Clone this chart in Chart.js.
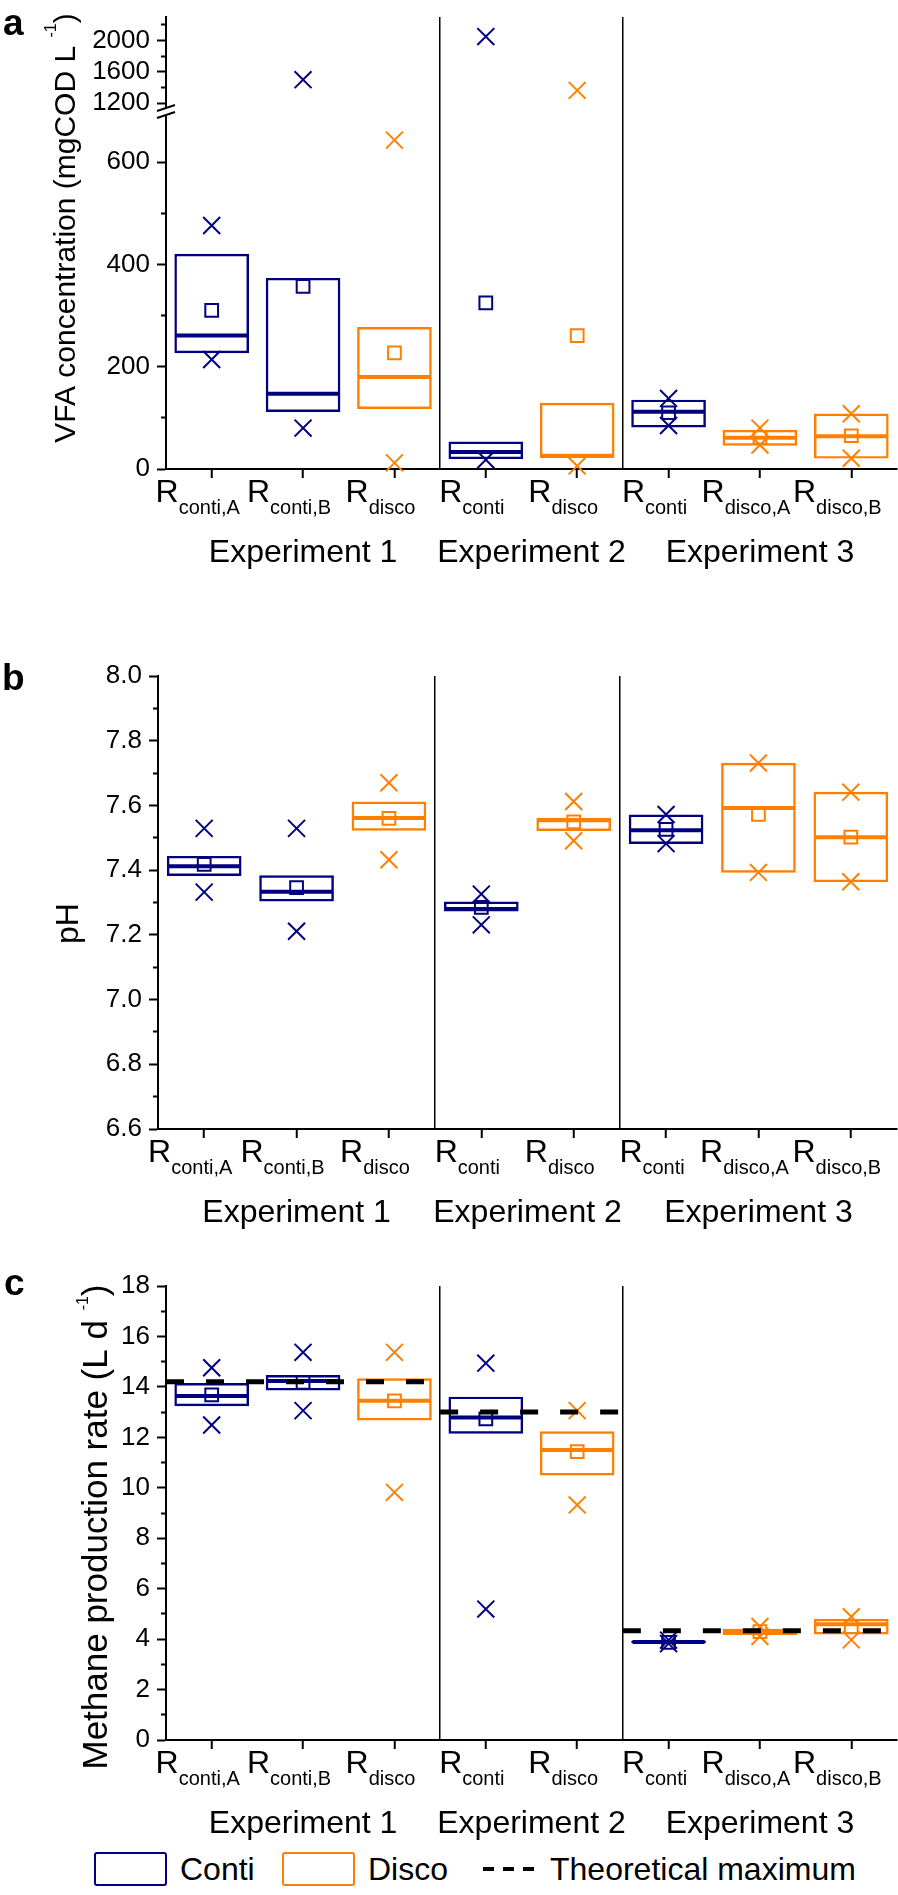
<!DOCTYPE html>
<html>
<head>
<meta charset="utf-8">
<script src="https://cdn.jsdelivr.net/npm/chart.js@4.4.1/dist/chart.umd.min.js"></script>
<style>
    body { margin: 0; background: #fff; }
    #page {
        position: relative;
        width: 898px;
        height: 1895px;
        font-family: "Liberation Sans", Arial, sans-serif;
    }
    #page canvas { position: absolute; left: 0; }
    .legend-box {
        position: absolute;
        top: 1852px;
        width: 73px;
        height: 34px;
        box-sizing: border-box;
        border: 2.5px solid;
        border-radius: 3px;
    }
    .legend-text {
        position: absolute;
        top: 1852px;
        line-height: 34px;
        font-size: 32px;
        color: #000;
        white-space: nowrap;
    }
    .legend-dash {
        position: absolute;
        left: 483px;
        top: 1867px;
        width: 52px;
        height: 4px;
        background: repeating-linear-gradient(to right, #000 0 11px, transparent 11px 20px);
    }
</style>
</head>
<body>
<div id="page">
    <canvas id="vfaChart" width="898" height="590" style="top:0"></canvas>
    <canvas id="phChart" width="898" height="640" style="top:600px"></canvas>
    <canvas id="ch4Chart" width="898" height="600" style="top:1240px"></canvas>

    <div class="legend-box" style="left:94px;border-color:#000080"></div>
    <div class="legend-text" style="left:180px">Conti</div>
    <div class="legend-box" style="left:282px;border-color:#ff8000"></div>
    <div class="legend-text" style="left:368px">Disco</div>
    <div class="legend-dash"></div>
    <div class="legend-text" style="left:550px">Theoretical maximum</div>
</div>

<script>
// Reactors along the x axis, grouped by experiment
const reactorNames = ['conti,A', 'conti,B', 'disco', 'conti', 'disco', 'conti', 'disco,A', 'disco,B'];
const reactorMode = ['conti', 'conti', 'disco', 'conti', 'disco', 'conti', 'disco', 'disco'];
const experimentNames = ['Experiment 1', 'Experiment 2', 'Experiment 3'];
const experimentSizes = [3, 2, 3];

// a: VFA concentration (mgCOD/L)
const vfaQ1 = [227, 112, 118, 20, 22, 82, 46, 21];
const vfaQ3 = [420, 373, 277, 53, 129, 135, 76, 108];
const vfaMedian = [261, 147, 180, 33, 26, 112, 61, 64];
const vfaMean = [310, 357, 227, 325, 261, 110, 62, 65];
const vfaMin = [214, 80, 12, 18, 6, 85, 47, 21];
const vfaMax = [476, 1500, 643, 2050, 1363, 138, 80, 108];
const vfaTicksLow = [0, 100, 200, 300, 400, 500, 600];
const vfaLabelsLow = [0, 200, 400, 600];
const vfaTicksHigh = [1200, 1400, 1600, 1800, 2000, 2200];
const vfaLabelsHigh = [1200, 1600, 2000];

// b: pH
const phQ1 = [7.383, 7.304, 7.523, 7.273, 7.522, 7.482, 7.393, 7.364];
const phQ3 = [7.443, 7.383, 7.611, 7.302, 7.561, 7.571, 7.731, 7.641];
const phMedian = [7.412, 7.333, 7.561, 7.28, 7.554, 7.523, 7.592, 7.502];
const phMean = [7.418, 7.346, 7.56, 7.285, 7.549, 7.526, 7.572, 7.502];
const phMin = [7.332, 7.211, 7.432, 7.231, 7.491, 7.482, 7.393, 7.364];
const phMax = [7.529, 7.529, 7.67, 7.326, 7.612, 7.572, 7.731, 7.641];
const phTicks = [6.6, 6.7, 6.8, 6.9, 7.0, 7.1, 7.2, 7.3, 7.4, 7.5, 7.6, 7.7, 7.8, 7.9, 8.0];
const phLabels = [6.6, 6.8, 7.0, 7.2, 7.4, 7.6, 7.8, 8.0];

// c: methane production rate (L/d)
const ch4Q1 = [13.25, 13.87, 12.68, 12.16, 10.5, 3.86, 4.18, 4.2];
const ch4Q3 = [14.14, 14.46, 14.33, 13.6, 12.23, 3.93, 4.4, 4.79];
const ch4Median = [13.64, 14.23, 13.45, 12.79, 11.5, 3.89, 4.3, 4.59];
const ch4Mean = [13.68, 14.18, 13.45, 12.73, 11.43, 3.87, 4.3, 4.49];
const ch4Min = [12.49, 13.06, 9.82, 5.19, 9.32, 3.82, 4.1, 3.97];
const ch4Max = [14.76, 15.37, 15.37, 14.94, 13.06, 3.96, 4.5, 4.89];
const ch4Theoretical = [14.2, 13.0, 4.33];
const ch4Ticks = [0, 1, 2, 3, 4, 5, 6, 7, 8, 9, 10, 11, 12, 13, 14, 15, 16, 17, 18];
const ch4Labels = [0, 2, 4, 6, 8, 10, 12, 14, 16, 18];

const COLORS = { conti: '#000080', disco: '#ff8000' };
const FONT = '"Liberation Sans", Arial, sans-serif';

Chart.defaults.font.family = FONT;

// x positions: reactor centres and experiment dividers
const xPos = reactorNames.map((_, i) => i + 0.5);
const dividers = [];
experimentSizes.slice(0, -1).reduce((acc, n) => { dividers.push(acc + n); return acc + n; }, 0);
const xMax = experimentSizes.reduce((a, b) => a + b, 0);

// Text that Chart.js can't lay out: subscripts, superscripts, panel letter, axis break
const panelText = {
    id: 'panelText',
    afterDraw(chart, args, opts) {
        const ctx = chart.ctx;
        const area = chart.chartArea;
        const xScale = chart.scales.x;
        ctx.save();
        ctx.fillStyle = '#000';
        ctx.textBaseline = 'alphabetic';

        // reactor labels, R with subscript
        reactorNames.forEach((name, i) => {
            const cx = xScale.getPixelForValue(xPos[i]);
            ctx.font = `32px ${FONT}`;
            const wR = ctx.measureText('R').width;
            ctx.font = `20px ${FONT}`;
            const wSub = ctx.measureText(name).width;
            let left = cx - (wR + wSub) / 2 - 14;
            left = Math.min(left, chart.width - 2 - wR - wSub);
            ctx.textAlign = 'left';
            ctx.font = `32px ${FONT}`;
            ctx.fillText('R', left, area.bottom + 33);
            ctx.font = `20px ${FONT}`;
            ctx.fillText(name, left + wR, area.bottom + 45);
        });

        // experiment names under each group
        ctx.font = `32px ${FONT}`;
        ctx.textAlign = 'center';
        let start = 0;
        experimentNames.forEach((name, k) => {
            const cx = xScale.getPixelForValue(start + experimentSizes[k] / 2);
            ctx.fillText(name, cx, area.bottom + 93);
            start += experimentSizes[k];
        });

        // rotated y title with optional superscript
        const t = opts.title;
        const mainFont = `${opts.titleSize}px ${FONT}`;
        const supFont = `16px ${FONT}`;
        ctx.font = mainFont;
        const w1 = ctx.measureText(t[0]).width;
        const w3 = ctx.measureText(t[2]).width;
        ctx.font = supFont;
        const w2 = ctx.measureText(t[1]).width;
        ctx.save();
        ctx.translate(opts.titleX, (area.top + area.bottom) / 2 + opts.titleShift);
        ctx.rotate(-Math.PI / 2);
        ctx.textAlign = 'left';
        let x = -(w1 + w2 + w3) / 2;
        ctx.font = mainFont;
        ctx.fillText(t[0], x, 0);
        x += w1;
        ctx.font = supFont;
        ctx.fillText(t[1], x, -19);
        x += w2;
        ctx.font = mainFont;
        ctx.fillText(t[2], x, 0);
        ctx.restore();

        // panel letter
        ctx.font = `bold 37px ${FONT}`;
        ctx.textAlign = 'left';
        ctx.fillText(opts.letter, opts.letterX, opts.letterY);

        // break mark on a split y axis
        if (opts.breakAt) {
            const yb = chart.scales.y.top;
            const ax = area.left;
            ctx.fillStyle = '#fff';
            ctx.fillRect(ax - 3, yb - 3, 6, 7);
            ctx.strokeStyle = '#000';
            ctx.lineWidth = 2;
            ctx.beginPath();
            ctx.moveTo(ax - 9, yb);
            ctx.lineTo(ax + 9, yb - 6);
            ctx.moveTo(ax - 9, yb + 7);
            ctx.lineTo(ax + 9, yb + 1);
            ctx.stroke();
        }
        ctx.restore();
    }
};

function yAxis(ticks, labels, fmt, leftWidth, extra) {
    return Object.assign({
        type: 'linear',
        position: 'left',
        afterBuildTicks: s => { s.ticks = ticks.map(v => ({ value: v })); },
        afterFit: s => {
            s.width = leftWidth;
            s.paddingTop = 0; s.paddingBottom = 0; s.paddingLeft = 0; s.paddingRight = 0;
        },
        grid: {
            drawOnChartArea: false,
            tickLength: 9,
            tickWidth: 2,
            tickColor: '#000',
            tickBorderDash: c => (c.tick && labels.includes(c.tick.value)) ? [] : [0, 4, 100]
        },
        border: { color: '#000', width: 2 },
        ticks: {
            autoSkip: false,
            padding: 7,
            color: '#000',
            font: { size: 26 },
            callback: v => labels.includes(v) ? fmt(v) : ''
        }
    }, extra);
}

function xAxis(height) {
    return {
        type: 'linear',
        min: 0,
        max: xMax,
        offset: false,
        afterBuildTicks: s => {
            s.ticks = xPos.concat(dividers).sort((a, b) => a - b).map(v => ({ value: v }));
        },
        afterFit: s => {
            s.height = height;
            s.paddingTop = 0; s.paddingBottom = 0; s.paddingLeft = 0; s.paddingRight = 0;
        },
        grid: {
            offset: false,
            drawOnChartArea: true,
            lineWidth: 1.5,
            color: c => (c.tick && dividers.includes(c.tick.value)) ? '#000' : 'rgba(0,0,0,0)',
            tickLength: 9,
            tickWidth: 2,
            tickColor: c => (c.tick && dividers.includes(c.tick.value)) ? 'rgba(0,0,0,0)' : '#000'
        },
        border: { color: '#000', width: 2 },
        ticks: { display: false }
    };
}

// point datasets, split over two y scales when the axis is broken
function pointSets(values, style, radius, width, order, breakAt) {
    const parts = breakAt ? [['y', v => v <= breakAt], ['y2', v => v > breakAt]] : [['y', () => true]];
    return parts.map(([axisId, keep]) => ({
        type: 'scatter',
        yAxisID: axisId,
        data: values.map((v, i) => ({ x: xPos[i], y: v, mode: reactorMode[i] })).filter(p => keep(p.y)),
        pointStyle: style,
        pointRadius: radius,
        pointHoverRadius: radius,
        pointBorderWidth: width,
        pointBackgroundColor: 'rgba(0,0,0,0)',
        pointBorderColor: c => COLORS[c.raw ? c.raw.mode : 'conti'],
        clip: false,
        order: order
    })).filter(d => d.data.length);
}

function buildChart(id, spec) {
    const datasets = [];

    if (spec.theoretical) {
        let start = 0;
        spec.theoretical.forEach((v, k) => {
            datasets.push({
                type: 'line',
                yAxisID: 'y',
                data: [{ x: start, y: v }, { x: start + experimentSizes[k], y: v }],
                borderColor: '#000',
                borderWidth: 5,
                borderDash: [18, 22],
                pointRadius: 0,
                fill: false,
                order: 0
            });
            start += experimentSizes[k];
        });
    }

    datasets.push(...pointSets(spec.max, 'crossRot', 12, 2, 1, spec.breakAt));
    datasets.push(...pointSets(spec.min, 'crossRot', 12, 2, 1, spec.breakAt));
    datasets.push(...pointSets(spec.mean, 'rect', 9, 2, 2, spec.breakAt));
    datasets.push(...pointSets(spec.median, 'line', 36, 4, 3, spec.breakAt));

    datasets.push({
        type: 'bar',
        yAxisID: 'y',
        data: spec.q1.map((lo, i) => ({ x: xPos[i], y: [lo, spec.q3[i]] })),
        backgroundColor: 'rgba(0,0,0,0)',
        borderColor: reactorMode.map(m => COLORS[m]),
        borderWidth: 1.8,
        borderSkipped: false,
        barThickness: 74,
        order: 4
    });

    return new Chart(document.getElementById(id), {
        type: 'bar',
        data: { datasets },
        options: {
            responsive: false,
            animation: false,
            devicePixelRatio: 1,
            events: [],
            layout: { autoPadding: false, padding: { top: spec.top, left: 0, right: 1, bottom: 0 } },
            scales: Object.assign({ x: xAxis(spec.xHeight) }, spec.yScales),
            plugins: {
                legend: { display: false },
                tooltip: { enabled: false },
                panelText: spec.text
            }
        },
        plugins: [panelText]
    });
}

// a: VFA, with a broken y axis
buildChart('vfaChart', {
    q1: vfaQ1, q3: vfaQ3, median: vfaMedian, mean: vfaMean, min: vfaMin, max: vfaMax,
    breakAt: 700,
    top: 17,
    xHeight: 121,
    yScales: {
        y: yAxis(vfaTicksLow, vfaLabelsLow, v => String(v), 166, { min: 0, max: 700, stack: 'vfa', stackWeight: 358 }),
        y2: yAxis(vfaTicksHigh, vfaLabelsHigh, v => String(v), 166, { min: 1100, max: 2300, stack: 'vfa', stackWeight: 94 })
    },
    text: {
        title: ['VFA concentration (mgCOD L ', '-1', ')'],
        titleSize: 30, titleX: 75, titleShift: -15,
        letter: 'a', letterX: 3, letterY: 35,
        breakAt: 700
    }
});

// b: pH
buildChart('phChart', {
    q1: phQ1, q3: phQ3, median: phMedian, mean: phMean, min: phMin, max: phMax,
    top: 76,
    xHeight: 111,
    yScales: {
        y: yAxis(phTicks, phLabels, v => v.toFixed(1), 158, { min: 6.6, max: 8.0 })
    },
    text: {
        title: ['pH', '', ''],
        titleSize: 32, titleX: 78, titleShift: 21,
        letter: 'b', letterX: 2, letterY: 90
    }
});

// c: methane production rate
buildChart('ch4Chart', {
    q1: ch4Q1, q3: ch4Q3, median: ch4Median, mean: ch4Mean, min: ch4Min, max: ch4Max,
    theoretical: ch4Theoretical,
    top: 46,
    xHeight: 100,
    yScales: {
        y: yAxis(ch4Ticks, ch4Labels, v => String(v), 166, { min: 0, max: 18 })
    },
    text: {
        title: ['Methane production rate (L d ', '-1', ')'],
        titleSize: 35, titleX: 107, titleShift: 14,
        letter: 'c', letterX: 4, letterY: 55
    }
});
</script>
</body>
</html>
